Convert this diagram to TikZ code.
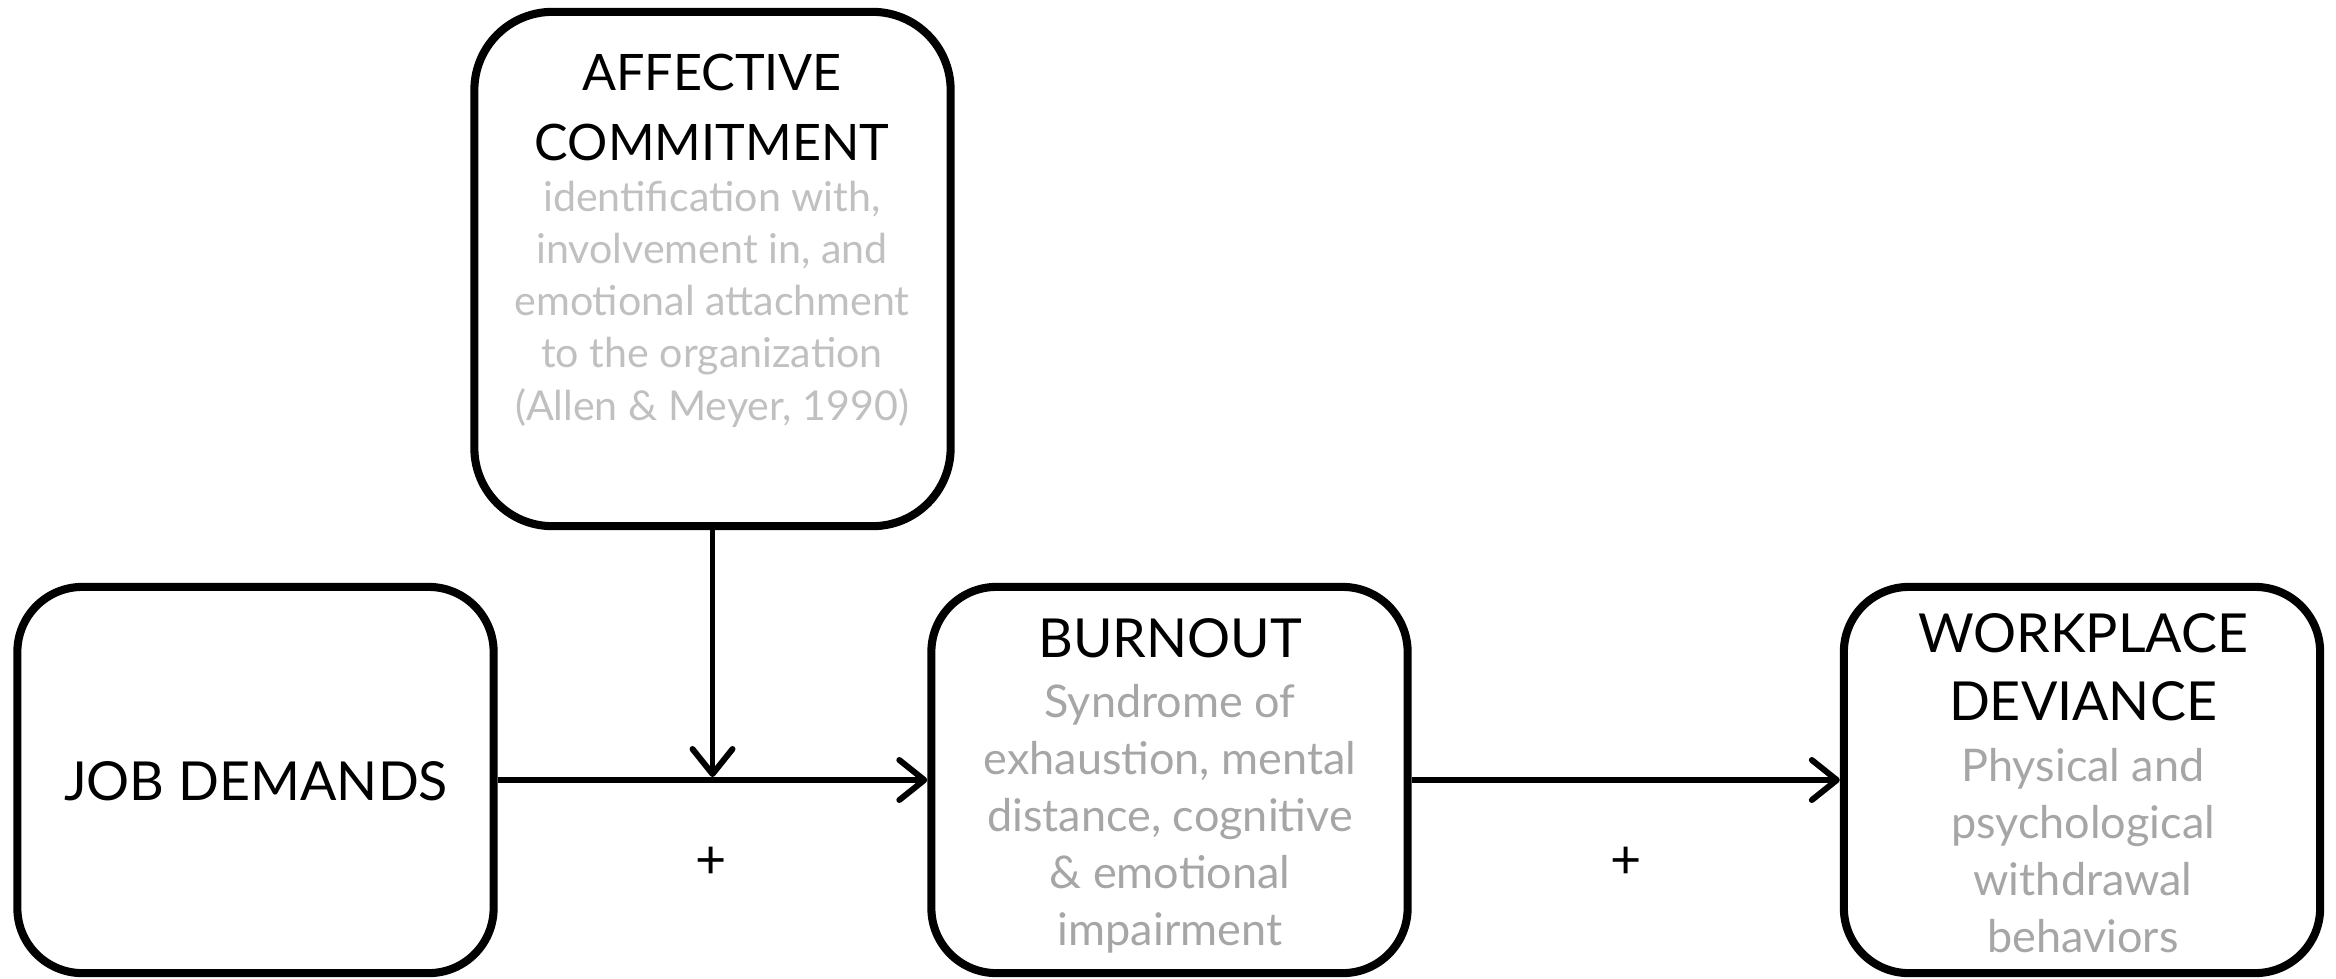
\documentclass[tikz,border=0pt]{standalone}
\usepackage{fontspec}
\setmainfont{Lato}
\usepackage{xcolor}
\usetikzlibrary{arrows.meta}
\usetikzlibrary{calc}

\definecolor{descgray}{HTML}{A6A6A6}
\definecolor{palegray}{HTML}{C0C0C0}

\tikzset{
  box/.style={draw, line width=2.3pt, rounded corners=0.65cm,
    minimum width=4.76cm, minimum height=3.86cm, inner sep=0pt},
  head/.style={font=\fontsize{15.3}{19.3}\selectfont, align=center,
    anchor=base, inner sep=0pt},
  desc/.style={text=descgray, font=\fontsize{12.8}{16.2}\selectfont,
    align=center, anchor=base, inner sep=0pt},
  link/.style={line width=1.7pt,
    -{Straight Barb[length=0.25cm,width=0.4cm,round]}},
}

\begin{document}
\begin{tikzpicture}[x=0.01cm, y=-0.01cm]
  \useasboundingbox (0,0) rectangle (2336,978);

  % boxes
  \node[box] (jd) at (255.5,780) {};
  \node[box] (bo) at (1169.5,780) {};
  \node[box] (wd) at (2082,780) {};
  \node[box, rounded corners=0.78cm, minimum height=5.14cm] (ac) at (712.5,269) {};

  % texts (base = last line)
  \node[head] (jdT) at (256,800) {JOB DEMANDS};
  \node[head, font=\fontsize{14.3}{19.9}\selectfont] (acT) at (712,160)
    {AFFECTIVE\\COMMITMENT};
  \node[desc, text=palegray, font=\fontsize{11.7}{14.8}\selectfont] (acD) at (712,420)
    {identification with,\\involvement in, and\\emotional attachment\\to the organization\\(Allen \& Meyer, 1990)};
  \node[head] (boT) at (1170,657) {BURNOUT};
  \node[desc] (boD) at (1170,945)
    {Syndrome of\\exhaustion, mental\\distance, cognitive\\\& emotional\\impairment};
  \node[head] (wdT) at (2083,720) {WORKPLACE\\DEVIANCE};
  \node[desc] (wdD) at (2083,952)
    {Physical and\\psychological\\withdrawal\\behaviors};

  % connectors
  \coordinate (jn) at (ac.south |- jd.east);
  \draw[link] (jd.east) -- (bo.west);
  \draw[link] (bo.east) -- (wd.west);
  \draw[link] (ac.south) -- ([yshift=0.03cm]jn);

  \node[head, anchor=center] (p1) at (711,863) {+};
  \node[head, anchor=center] (p2) at (1626,863) {+};
\end{tikzpicture}
\end{document}
